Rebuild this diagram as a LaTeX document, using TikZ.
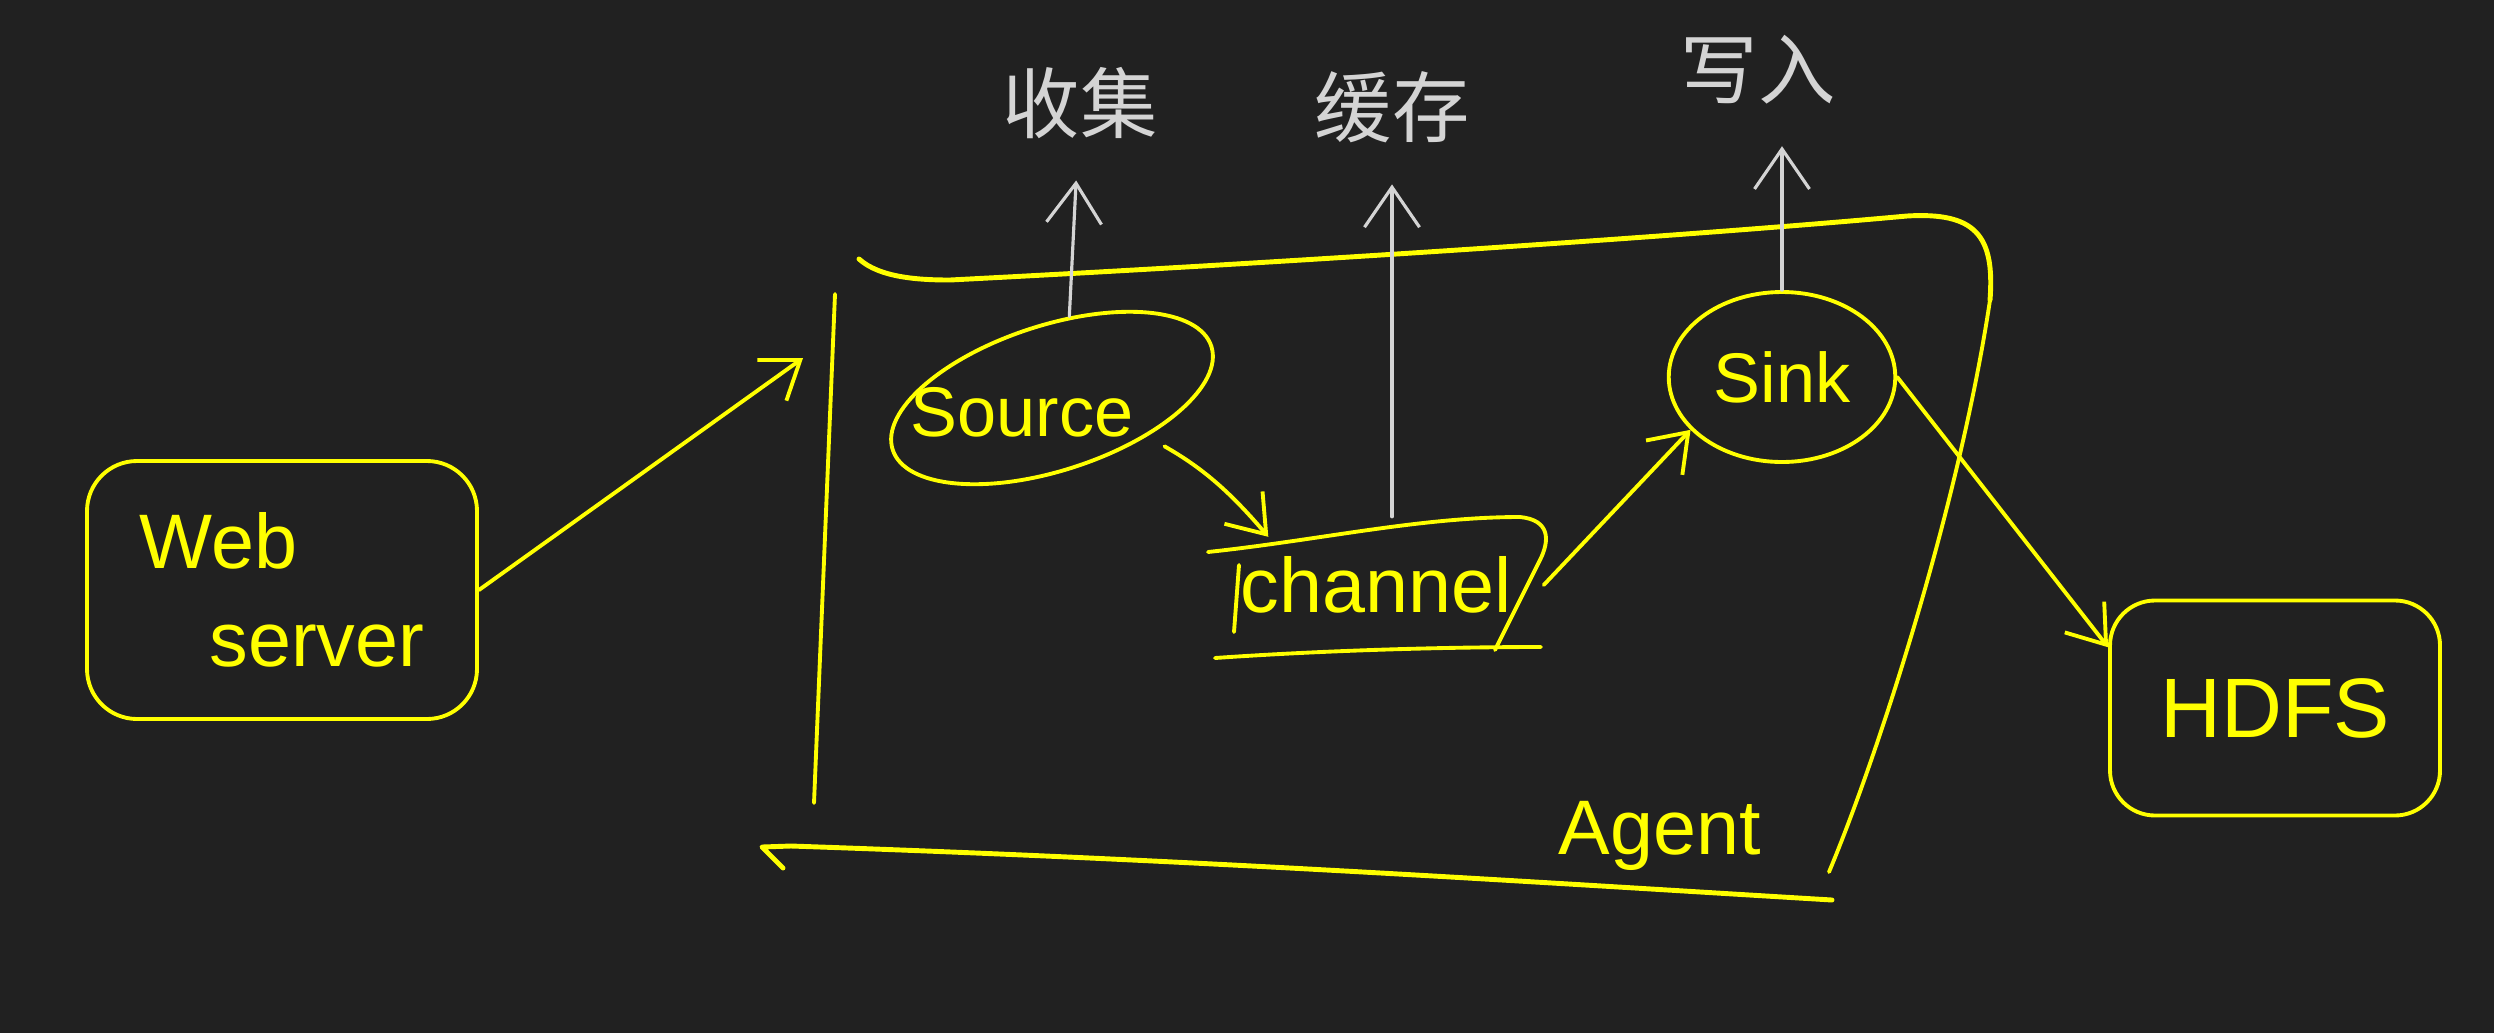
\documentclass[tikz,border=0pt]{standalone}
\usepackage{fontspec}
\setmainfont{Liberation Sans}
\newfontfamily\cjk{Noto Sans CJK SC}
\usetikzlibrary{shapes.geometric}
\usetikzlibrary{arrows.meta}
\usetikzlibrary{calc}
\definecolor{board}{RGB}{33,33,33}
\definecolor{pen}{RGB}{255,255,0}
\definecolor{chalk}{RGB}{212,212,212}

\begin{document}
\begin{tikzpicture}[
    ink/.style={draw=pen, line width=1.1pt, line cap=round, line join=round},
    hand/.style={text=pen, font=\fontsize{22}{26}\selectfont},
    yarr/.style={ink, -{Straight Barb[length=3.5mm,width=5mm]}},
    garr/.style={draw=chalk, line width=0.9pt, line cap=round, -{Straight Barb[length=4mm,width=5.5mm]}},
    note/.style={text=chalk, font=\cjk\fontsize{22}{26}\selectfont, outer sep=0.3cm}]
  % board
  \fill[board] (0,0) rectangle (24.94,-10.33);
  \useasboundingbox (0,0) rectangle (24.94,-10.33);

  % Web server
  \node[ink, hand, rounded corners=0.5cm, minimum width=3.9cm, minimum height=2.58cm, align=left] (web) at (2.82,-5.90) {Web\\[2pt]\hspace{0.7cm}server};

  % Agent
  \draw[ink, line width=1.4pt] (8.59,-2.59) .. controls (8.8,-2.78) and (9.2,-2.80) .. (9.5,-2.80) .. controls (13,-2.62) and (17,-2.35) .. (19.07,-2.16) .. controls (19.75,-2.12) and (19.95,-2.35) .. (19.9,-3.0);
  \draw[ink] (19.9,-3.0) .. controls (19.6,-5.0) and (18.8,-7.5) .. (18.29,-8.72);
  \draw[ink] (8.35,-2.94) -- (8.14,-8.03);
  \draw[ink, line width=1.4pt] (7.83,-8.68) -- (7.62,-8.47) -- (7.91,-8.46) .. controls (12,-8.6) and (15,-8.8) .. (18.32,-9.0);
  \node[hand] (agent) at (16.60,-8.36) {Agent};

  \node[ink, ellipse, rotate=18, minimum width=3.35cm, minimum height=1.45cm] (source) at (10.52,-3.98) {};
  \node[hand, font=\fontsize{20}{24}\selectfont] (sourcetxt) at (10.22,-4.12) {Source};

  \node[hand, minimum width=3.34cm, minimum height=1.35cm] (channel) at (13.76,-5.85) {channel};
  \draw[ink] (12.08,-5.52) .. controls (13.2,-5.4) and (14.2,-5.17) .. (15.2,-5.17) .. controls (15.5,-5.2) and (15.5,-5.4) .. (15.4,-5.6) -- (14.95,-6.50);
  \draw[ink] (12.15,-6.58) .. controls (13.3,-6.5) and (14.5,-6.47) .. (15.41,-6.47);
  \draw[ink] (12.39,-5.65) -- (12.34,-6.32);

  \node[ink, hand, ellipse, minimum width=2.24cm, minimum height=1.7cm, font=\fontsize{20}{24}\selectfont] (sink) at (17.82,-3.77) {Sink};

  % HDFS
  \node[ink, hand, rounded corners=0.45cm, minimum width=3.3cm, minimum height=2.15cm, font=\fontsize{24}{28}\selectfont] (hdfs) at (22.75,-7.08) {HDFS};

  % flow
  \coordinate (agentin) at (8.03,-3.58);
  \draw[yarr] (web.east) -- (agentin);
  \draw[yarr, shorten <=2mm] (source.-40) to[bend left=10] ($(channel.north west)+(0.6,-0.2)$);
  \draw[yarr] (channel.east) -- (sink.210);
  \draw[yarr] (sink.east) -- (hdfs.160);

  % notes
  \node[note] (collect) at (10.80,-1.03) {收集};
  \node[note] (buffer) at (13.92,-1.07) {缓存};
  \node[note] (write) at (17.58,-0.70) {写入};
  \draw[garr] (source.60) -- (collect);
  \draw[garr] (channel.north -| buffer) -- (buffer);
  \draw[garr] (sink.north) -- (sink.north |- write.south);
\end{tikzpicture}
\end{document}
